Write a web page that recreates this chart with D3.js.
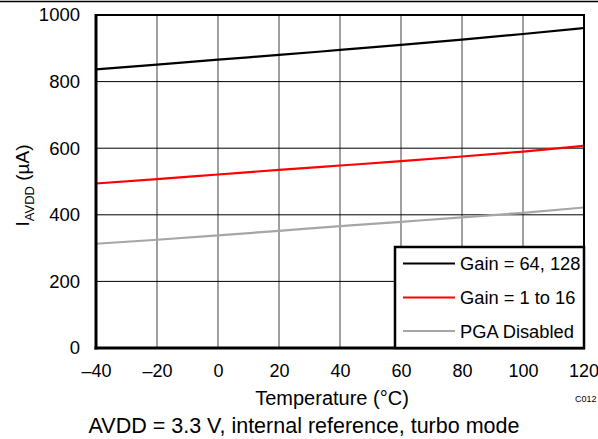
<!DOCTYPE html>
<html><head><meta charset="utf-8">
<script src="https://cdn.jsdelivr.net/npm/d3@7"></script>
<style>
body{margin:0;background:#fff;}
text{font-family:"Liberation Sans",Arial,sans-serif;fill:#000;}
</style></head>
<body>
<svg id="c" width="598" height="439"></svg>
<script>
const temps = [-40,-20,0,20,40,60,80,100,120];
const gainHigh = [837,851,866,880,895,910,926,943,961];
const gainLow = [494,507,521,535,548,561,575,590,607];
const pgaOff = [313,325,338,352,366,379,392,406,422];
const xTicks = [-40,-20,0,20,40,60,80,100,120];
const yTicks = [0,200,400,600,800,1000];
const seriesNames = ["Gain = 64, 128","Gain = 1 to 16","PGA Disabled"];
const seriesColors = ["#000000","#ff0000","#a6a6a6"];

const series = [gainHigh, gainLow, pgaOff];
const svg = d3.select("#c");
const L=96,R=584,T=15,B=348;
const x = d3.scaleLinear().domain([-40,120]).range([L,R]);
const y = d3.scaleLinear().domain([0,1000]).range([B,T]);
const FF = "Liberation Sans, Arial, sans-serif";

// top rule
svg.append("line").attr("x1",0).attr("x2",598).attr("y1",1.5).attr("y2",1.5).attr("stroke","#000").attr("stroke-width",1.5);

// gridlines
svg.append("g").selectAll("line").data(xTicks.slice(1,-1)).join("line")
  .attr("x1",d=>x(d)).attr("x2",d=>x(d)).attr("y1",T).attr("y2",B)
  .attr("stroke","#808080").attr("stroke-width",1.5);
svg.append("g").selectAll("line").data(yTicks.slice(1,-1)).join("line")
  .attr("x1",L).attr("x2",R).attr("y1",d=>y(d)).attr("y2",d=>y(d))
  .attr("stroke","#000").attr("stroke-width",1);

// lines
const line = d3.line().x((d,i)=>x(temps[i])).y(d=>y(d)).curve(d3.curveMonotoneX);
series.forEach((s,k)=>{
  svg.append("path").datum(s).attr("d",line).attr("fill","none")
    .attr("stroke",seriesColors[k]).attr("stroke-width",2.2);
});

// frame
svg.append("line").attr("x1",L).attr("x2",R+1).attr("y1",T).attr("y2",T).attr("stroke","#000").attr("stroke-width",2);
svg.append("line").attr("x1",R).attr("x2",R).attr("y1",T).attr("y2",B).attr("stroke","#000").attr("stroke-width",2);
svg.append("line").attr("x1",L).attr("x2",L).attr("y1",T-1).attr("y2",B+1.5).attr("stroke","#000").attr("stroke-width",3);
svg.append("line").attr("x1",L-1.5).attr("x2",R+1).attr("y1",B).attr("y2",B).attr("stroke","#000").attr("stroke-width",3);

// axes labels via d3 axes
const xAxis = d3.axisBottom(x).tickValues(xTicks).tickSize(0).tickPadding(14)
  .tickFormat(d=> d<0 ? "\u2013"+Math.abs(d) : String(d));
const gx = svg.append("g").attr("transform",`translate(0,${B+2})`).call(xAxis);
gx.select(".domain").remove();
gx.selectAll("text").attr("font-size",18).attr("font-family",FF).attr("fill","#000");
gx.selectAll(".tick").filter(d=>d===120).select("text").attr("text-anchor","end").attr("dx",14.5);

const yAxis = d3.axisLeft(y).tickValues(yTicks).tickSize(0).tickPadding(16).tickFormat(d3.format("d"));
const gy = svg.append("g").attr("transform",`translate(${L},0)`).call(yAxis);
gy.select(".domain").remove();
gy.selectAll("text").attr("font-size",18.5).attr("font-family",FF).attr("fill","#000");

// y title
const yt = svg.append("text").attr("transform",`translate(29,${(T+B)/2+4}) rotate(-90)`)
  .attr("text-anchor","middle").attr("font-size",19);
yt.append("tspan").text("I");
yt.append("tspan").attr("font-size",13).attr("dy",5).text("AVDD");
yt.append("tspan").attr("dy",-5).text(" (\u00B5A)");

// x title
svg.append("text").attr("x",332).attr("y",405).attr("text-anchor","middle").attr("font-size",20).text("Temperature (\u00B0C)");
svg.append("text").attr("x",575).attr("y",402).attr("font-size",9).text("C012");
svg.append("text").attr("x",304).attr("y",433).attr("text-anchor","middle").attr("font-size",21.5)
  .text("AVDD = 3.3 V, internal reference, turbo mode");

// legend
const lg = svg.append("g");
lg.append("rect").attr("x",395).attr("y",247).attr("width",R-395).attr("height",B-247)
  .attr("fill","#fff").attr("stroke","#000").attr("stroke-width",2.5);
const rowY = [263.5,297.5,331];
seriesNames.forEach((n,k)=>{
  lg.append("line").attr("x1",403).attr("x2",455).attr("y1",rowY[k]).attr("y2",rowY[k])
    .attr("stroke",seriesColors[k]).attr("stroke-width",2.2);
  lg.append("text").attr("x",460).attr("y",rowY[k]+6.5).attr("font-size",18.3).text(n);
});
</script>
</body></html>
